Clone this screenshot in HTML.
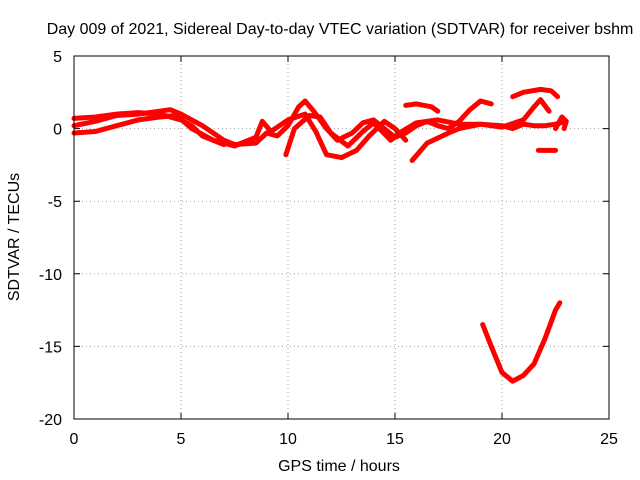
<!DOCTYPE html>
<html><head><meta charset="utf-8"><style>
html,body{margin:0;padding:0;background:#fff}
svg{display:block;font-family:"Liberation Sans",sans-serif}
</style></head><body>
<svg id="chart" width="640" height="480" viewBox="0 0 640 480">
<rect width="640" height="480" fill="#fff"/>
<text x="340" y="34" font-size="16" text-anchor="middle">Day 009 of 2021, Sidereal Day-to-day VTEC variation (SDTVAR) for receiver bshm</text>
<text x="339" y="471" font-size="16" text-anchor="middle">GPS time / hours</text>
<text x="19" y="237" font-size="16" text-anchor="middle" transform="rotate(-90 19 237)">SDTVAR / TECUs</text>
<g id="grid"></g>
<g id="ticks"></g>
<g id="series"></g>
<rect x="74" y="56" width="535" height="363" fill="none" stroke="#000" stroke-width="1"/>
</svg>
<script>
const xTicks=[0,5,10,15,20,25];
const yTicks=[5,0,-5,-10,-15,-20];
const track1=[[0,0.2],[1,0.5],[2,0.9],[3,1.0],[4,1.2],[4.5,1.3],[5,1.0],[6,0.2],[7,-0.8],[7.5,-1.1],[8.5,-1],[9,-0.3],[9.5,-0.5],[10,0.2],[10.5,1.5],[10.8,1.9],[11.2,1.2],[11.8,0],[12.3,-0.8],[13,-0.3],[13.5,0.4],[14,0.6],[14.5,0],[15,-0.6],[15.5,-0.3],[16,0.2],[16.5,0.5],[17,0.2],[17.5,0],[18,0.5],[18.5,1.3],[19,1.9],[19.5,1.7]];
const track2=[[0,-0.3],[1,-0.2],[2,0.2],[3,0.6],[4,0.8],[4.8,0.9],[5.5,0],[6.5,-0.8],[7.5,-1.2],[8.5,-0.6],[8.8,0.5],[9.2,-0.2],[10,0.6],[10.8,1.0],[11.3,-0.2],[11.8,-1.8],[12.5,-2.0],[13.2,-1.5],[13.8,-0.5],[14.5,0.5],[15,0],[15.5,-0.8]];
const track3=[[9.9,-1.8],[10.3,0],[11,0.9],[11.5,0.8],[12,-0.3],[12.8,-1.2],[13.5,-0.2],[14,0.4],[14.8,-0.8],[15.2,-0.3],[16,0.4],[17,0.6],[18,0.3],[19,0.3],[20,0.2],[20.5,0],[21,0.3],[21.5,0.2],[22,0.2],[22.5,0.3],[23,0.5]];
const track4=[[15.8,-2.2],[16.5,-1.0],[17.5,-0.3],[18,0],[19,0.3],[20,0.1],[21,0.6],[21.5,1.5],[21.8,2.0],[22.2,1.2]];
const track5=[[15.5,1.6],[16,1.7],[16.7,1.5],[17,1.2]];
const track6=[[20.5,2.2],[21,2.5],[21.8,2.7],[22.3,2.6],[22.6,2.2]];
const track7=[[21.7,-1.5],[22.5,-1.5]];
const track8=[[19.1,-13.5],[19.5,-15],[20,-16.8],[20.5,-17.4],[21,-17],[21.5,-16.2],[22,-14.5],[22.5,-12.5],[22.7,-12]];
const track9=[[0,0.7],[1,0.8],[2,1.0],[3,1.1],[4,1.0],[5,0.6],[5.5,0.2],[6,-0.5],[7,-1.1]];
const track10=[[22.5,0],[22.8,0.8],[23,0.5],[22.9,0]];
const tracks=[track1,track2,track3,track4,track5,track6,track7,track8,track9,track10];

const NS="http://www.w3.org/2000/svg";
const X0=74,X1=609,Y0=419,Y1=56;
function sx(v){return X0+(v-0)/(25-0)*(X1-X0);}
function sy(v){return Y0-(v+20)/(5+20)*(Y0-Y1);}
function mk(tag,attrs,parent){const e=document.createElementNS(NS,tag);for(const k in attrs)e.setAttribute(k,attrs[k]);parent.appendChild(e);return e;}
const grid=document.getElementById('grid'),ticks=document.getElementById('ticks'),ser=document.getElementById('series');
xTicks.forEach(t=>{
  const x=sx(t);
  if(t>0&&t<25){const g=mk('line',{x1:x,x2:x,y1:Y1,y2:Y0,stroke:'#a0a0a0','stroke-dasharray':'1,3'},grid);
  
  }
  const tk=mk('path',{d:`M${x},${Y0}v-6M${x},${Y1}v6`,stroke:'#000'},ticks);
  
  
  const l=mk('text',{x:x,y:Y0+25,'font-size':16,'text-anchor':'middle'},ticks);
  l.textContent=t;
  
  
});
yTicks.forEach(t=>{
  const y=sy(t);
  if(t>-20&&t<5){const g=mk('line',{x1:X0,x2:X1,y1:y,y2:y,stroke:'#a0a0a0','stroke-dasharray':'1,3'},grid);
  
  }
  const tk=mk('path',{d:`M${X0},${y}h6M${X1},${y}h-6`,stroke:'#000'},ticks);
  
  
  const l=mk('text',{x:X0-12,y:y+6,'font-size':16,'text-anchor':'end'},ticks);
  l.textContent=t;
  
  
});
tracks.forEach((tr,i)=>{
  const d=tr.map((p,j)=>(j?'L':'M')+sx(p[0]).toFixed(1)+','+sy(p[1]).toFixed(1)).join('');
  const p=mk('path',{d:d,fill:'none',stroke:'#ff0000','stroke-width':5,'stroke-linejoin':'round','stroke-linecap':'round'},ser);
  
  
});
</script>
</body></html>
